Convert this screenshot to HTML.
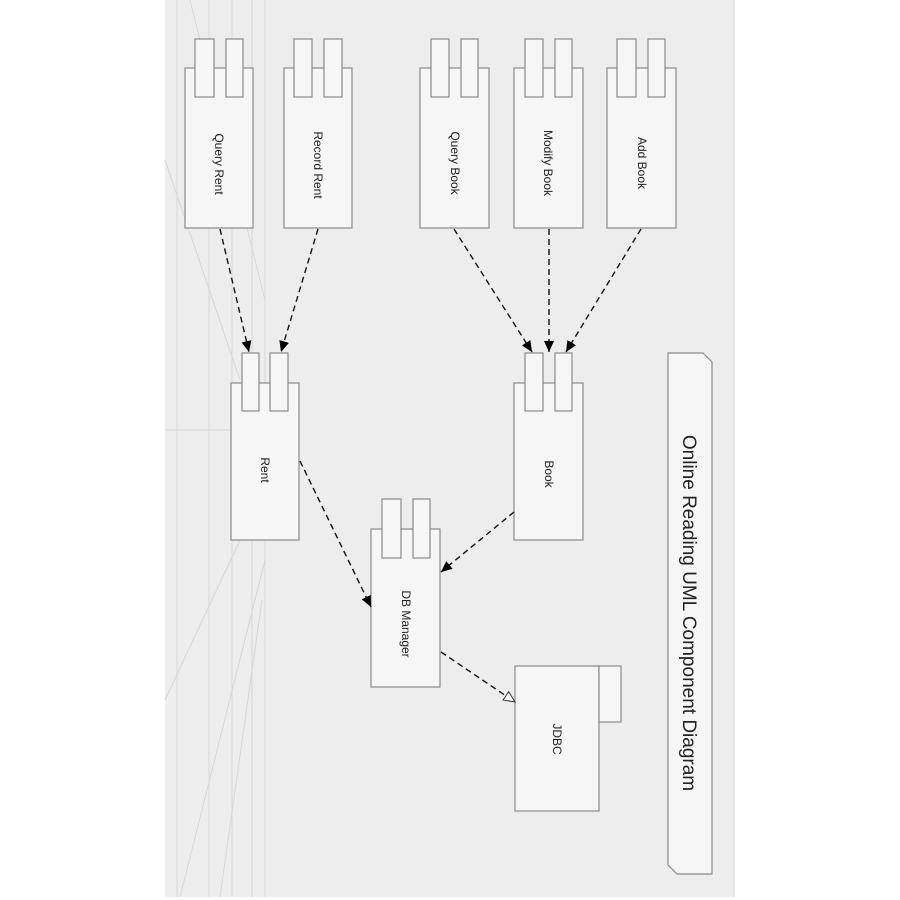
<!DOCTYPE html>
<html><head><meta charset="utf-8"><style>
html,body{margin:0;padding:0;background:#fff;}
svg{display:block;}
text{font-family:"Liberation Sans",sans-serif;fill:#222;}
</style></head><body>
<svg width="900" height="900" viewBox="0 0 900 900" xmlns="http://www.w3.org/2000/svg">
<defs>
<marker id="a" markerWidth="12" markerHeight="10" refX="11" refY="5" orient="auto" markerUnits="userSpaceOnUse">
<path d="M0,0 L11,5 L0,10 z" fill="#000"/></marker>
<marker id="o" markerWidth="14" markerHeight="12" refX="12" refY="6" orient="auto" markerUnits="userSpaceOnUse">
<path d="M1,1 L12,6 L1,11 z" fill="#fff" stroke="#333" stroke-width="1"/></marker>
</defs>
<rect x="165" y="0" width="570" height="897" fill="#ededed"/>
<rect x="733" y="0" width="2" height="897" fill="#e2e2e2"/>
<g stroke="#d6d6d6" stroke-width="1" fill="none">
<line x1="177" y1="0" x2="177" y2="897"/>
<line x1="209" y1="0" x2="209" y2="897"/>
<line x1="232" y1="0" x2="232" y2="897"/>
<line x1="252" y1="0" x2="252" y2="897"/>
<line x1="265" y1="0" x2="265" y2="897"/>
<line x1="165" y1="430" x2="230" y2="430"/>
<line x1="165" y1="160" x2="240" y2="380"/>
<line x1="240" y1="540" x2="165" y2="700"/>
<line x1="265" y1="560" x2="180" y2="897"/>
<line x1="262" y1="600" x2="220" y2="897"/>
<line x1="190" y1="0" x2="265" y2="300"/>
</g>
<g fill="#f6f6f6" stroke="#8a8a8a" stroke-width="1.2">
<rect x="185" y="68" width="68" height="160"/><rect x="195" y="39" width="19" height="58"/><rect x="226" y="39" width="17" height="58"/>
<rect x="284" y="68" width="68" height="160"/><rect x="294" y="39" width="18" height="58"/><rect x="324" y="39" width="18" height="58"/>
<rect x="420" y="68" width="69" height="160"/><rect x="431" y="39" width="18" height="58"/><rect x="461" y="39" width="17" height="58"/>
<rect x="514" y="68" width="69" height="160"/><rect x="525" y="39" width="18" height="58"/><rect x="555" y="39" width="17" height="58"/>
<rect x="607" y="68" width="69" height="160"/><rect x="617" y="39" width="19" height="58"/><rect x="648" y="39" width="17" height="58"/>
<rect x="231" y="383" width="68" height="157"/><rect x="242" y="353" width="17" height="58"/><rect x="270" y="353" width="18" height="58"/>
<rect x="514" y="383" width="69" height="157"/><rect x="525" y="353" width="18" height="58"/><rect x="555" y="353" width="17" height="58"/>
<rect x="371" y="529" width="69" height="158"/><rect x="382" y="499" width="19" height="59"/><rect x="413" y="499" width="17" height="59"/>
<rect x="515" y="666" width="84" height="145"/><rect x="599" y="666" width="22" height="56"/>
<path d="M668,353 L703,353 L712,362 L712,874 L677,874 L668,865 Z"/>
</g>
<g font-size="12" text-anchor="middle">
<text transform="translate(219,164) rotate(90)" dy="4">Query Rent</text>
<text transform="translate(318,165) rotate(90)" dy="4">Record Rent</text>
<text transform="translate(455,163) rotate(90)" dy="4">Query Book</text>
<text transform="translate(548,163) rotate(90)" dy="4">Modify Book</text>
<text transform="translate(642,163) rotate(90)" dy="4">Add Book</text>
<text transform="translate(265,470) rotate(90)" dy="4">Rent</text>
<text transform="translate(549,474) rotate(90)" dy="4">Book</text>
<text transform="translate(406,624) rotate(90)" dy="4">DB Manager</text>
<text transform="translate(557,739) rotate(90)" dy="4">JDBC</text>
</g>
<text transform="translate(690,613) rotate(90)" dy="7" font-size="19" text-anchor="middle">Online Reading UML Component Diagram</text>
<g stroke="#111" stroke-width="1.4" stroke-dasharray="6,4" fill="none">
<line x1="220" y1="229" x2="249" y2="352" marker-end="url(#a)"/>
<line x1="318" y1="229" x2="281" y2="352" marker-end="url(#a)"/>
<line x1="454" y1="229" x2="532" y2="352" marker-end="url(#a)"/>
<line x1="549" y1="229" x2="549" y2="352" marker-end="url(#a)"/>
<line x1="641" y1="229" x2="566" y2="352" marker-end="url(#a)"/>
<line x1="300" y1="461" x2="371" y2="607" marker-end="url(#a)"/>
<line x1="514" y1="512" x2="441" y2="572" marker-end="url(#a)"/>
<line x1="441" y1="652" x2="515" y2="702" marker-end="url(#o)"/>
</g>
</svg>
</body></html>
